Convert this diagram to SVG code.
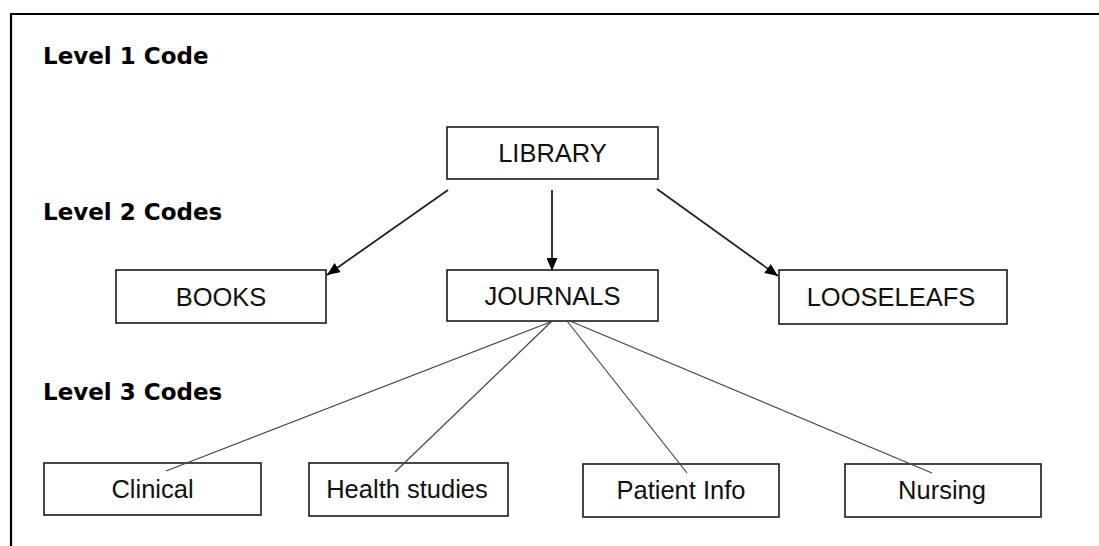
<svg xmlns="http://www.w3.org/2000/svg" width="1099" height="546" viewBox="0 0 1099 546">
<style>
.box{fill:#fff;stroke:#1a1a1a;stroke-width:1.6}
.lbl{font-family:"Liberation Sans",Arial,sans-serif;font-size:25.5px;fill:#111;text-anchor:middle}
.lvl{font-family:"DejaVu Sans",Verdana,sans-serif;font-weight:bold;font-size:23px;fill:#000}
.arr{stroke:#222;stroke-width:1.8;fill:none;marker-end:url(#ah)}
.ln{stroke:#444;stroke-width:1.2;fill:none}
</style>
<defs>
<marker id="ah" viewBox="0 0 13 11" refX="13" refY="5.5" markerWidth="13" markerHeight="11" markerUnits="userSpaceOnUse" orient="auto">
<path d="M0,0 L13,5.5 L0,11 Z" fill="#000"/>
</marker>
</defs>
<rect width="1099" height="546" fill="#fff"/>
<path d="M11,547 V14 H1100" fill="none" stroke="#000" stroke-width="2.2"/>
<text class="lvl" x="43" y="64">Level 1 Code</text>
<text class="lvl" x="43" y="220">Level 2 Codes</text>
<text class="lvl" x="43" y="400">Level 3 Codes</text>
<g id="library"><rect class="box" x="447" y="127" width="211" height="52"/><text class="lbl" x="552.5" y="162">LIBRARY</text></g>
<g id="books"><rect class="box" x="116" y="270" width="210" height="53"/><text class="lbl" x="221" y="306">BOOKS</text></g>
<g id="journals"><rect class="box" x="447" y="270" width="211" height="51"/><text class="lbl" x="552.5" y="305">JOURNALS</text></g>
<g id="looseleafs"><rect class="box" x="779" y="270" width="228" height="54"/><text class="lbl" x="891" y="306">LOOSELEAFS</text></g>
<g id="clinical"><rect class="box" x="44" y="463" width="217" height="52"/><text class="lbl" x="152.5" y="498">Clinical</text></g>
<g id="health-studies"><rect class="box" x="309" y="463" width="199" height="53"/><text class="lbl" x="407" y="498">Health studies</text></g>
<g id="patient-info"><rect class="box" x="583" y="464" width="196" height="53"/><text class="lbl" x="681" y="499">Patient Info</text></g>
<g id="nursing"><rect class="box" x="845" y="464" width="196" height="53"/><text class="lbl" x="942" y="499">Nursing</text></g>
<g id="connectors">
<line class="arr" x1="448" y1="190" x2="327" y2="275"/>
<line class="arr" x1="552" y1="190" x2="552" y2="271"/>
<line class="arr" x1="657" y1="189" x2="778" y2="276"/>
<line class="ln" x1="553" y1="321" x2="166" y2="471"/>
<line class="ln" x1="552" y1="321" x2="395" y2="472"/>
<line class="ln" x1="567" y1="321" x2="687" y2="473"/>
<line class="ln" x1="570" y1="321" x2="932" y2="473"/>
</g>
</svg>
